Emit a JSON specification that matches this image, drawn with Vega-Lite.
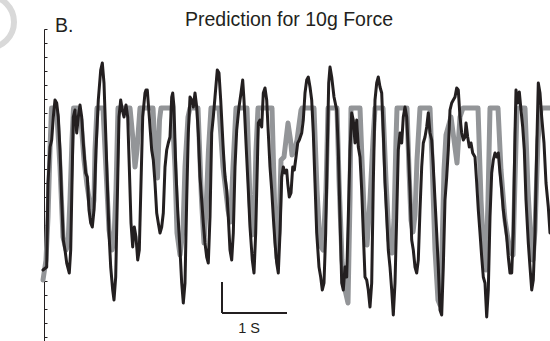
{
  "$schema": "https://vega.github.io/schema/vega-lite/v6.json",
  "width": 506,
  "height": 312,
  "autosize": {"type": "none"},
  "padding": {"left": 44, "top": 29, "right": 0, "bottom": 0},
  "background": "white",
  "config": {"view": {"stroke": null}, "font": "Liberation Sans"},
  "title": {"text": "Prediction for 10g Force", "fontSize": 19.5, "font": "Liberation Sans", "fontWeight": "normal", "color": "#231f20", "anchor": "middle", "dx": -8, "dy": 63, "offset": 2, "baseline": "alphabetic"},
  "datasets": {
    "measured": [
      {"t":-1,"f":67},{"t":2.7,"f":70},{"t":4,"f":154},{"t":6,"f":190},{"t":7.7,"f":197},{"t":9.3,"f":220},{"t":11,"f":237},{"t":12.7,"f":234},{"t":14.3,"f":220},{"t":16,"f":187},{"t":17.7,"f":137},{"t":19.3,"f":97},{"t":21,"f":87},{"t":22.7,"f":74},{"t":25.3,"f":64},{"t":26.7,"f":87},{"t":28,"f":154},{"t":29.3,"f":220},{"t":31,"f":227},{"t":32.7,"f":204},{"t":34.3,"f":220},{"t":36,"f":232},{"t":37.7,"f":220},{"t":39.3,"f":194},{"t":41.7,"f":164},{"t":43.3,"f":160},{"t":45,"f":127},{"t":46.7,"f":114},{"t":48.3,"f":110},{"t":50,"f":127},{"t":52,"f":187},{"t":54.3,"f":237},{"t":56.7,"f":267},{"t":58.3,"f":274},{"t":60,"f":254},{"t":61.7,"f":204},{"t":63.3,"f":154},{"t":65,"f":104},{"t":66.7,"f":70},{"t":68.7,"f":47},{"t":70,"f":37},{"t":71.7,"f":60},{"t":73.3,"f":137},{"t":75,"f":220},{"t":76.7,"f":237},{"t":78.3,"f":227},{"t":80,"f":220},{"t":82,"f":232},{"t":83.7,"f":220},{"t":85.3,"f":170},{"t":87,"f":114},{"t":88.7,"f":90},{"t":90.3,"f":110},{"t":92,"f":100},{"t":93.7,"f":77},{"t":95.3,"f":87},{"t":97,"f":154},{"t":98.7,"f":220},{"t":101,"f":244},{"t":102,"f":247},{"t":103.3,"f":247},{"t":105.3,"f":220},{"t":107.7,"f":187},{"t":109.3,"f":177},{"t":111,"f":154},{"t":112.7,"f":124},{"t":114.3,"f":114},{"t":116,"f":104},{"t":117.7,"f":110},{"t":119.3,"f":124},{"t":121,"f":170},{"t":122.7,"f":187},{"t":124.3,"f":194},{"t":126,"f":200},{"t":127.7,"f":240},{"t":128.7,"f":244},{"t":130,"f":230},{"t":131.7,"f":170},{"t":133.7,"f":127},{"t":136,"f":87},{"t":137.7,"f":54},{"t":139.3,"f":34},{"t":141,"f":54},{"t":142.7,"f":137},{"t":144.3,"f":204},{"t":146,"f":240},{"t":147.7,"f":237},{"t":149.3,"f":230},{"t":151,"f":244},{"t":152.7,"f":230},{"t":154.3,"f":204},{"t":156,"f":160},{"t":157.7,"f":137},{"t":159.3,"f":114},{"t":161,"f":94},{"t":162.7,"f":80},{"t":164.3,"f":74},{"t":166,"f":120},{"t":167.7,"f":204},{"t":169.3,"f":220},{"t":171,"f":240},{"t":173.3,"f":267},{"t":175,"f":264},{"t":176.7,"f":237},{"t":179.3,"f":187},{"t":181,"f":160},{"t":182.7,"f":147},{"t":184.3,"f":120},{"t":186,"f":87},{"t":187.7,"f":77},{"t":189.3,"f":104},{"t":191,"f":170},{"t":192.7,"f":207},{"t":195,"f":230},{"t":197,"f":244},{"t":198.7,"f":257},{"t":200,"f":237},{"t":202,"f":194},{"t":204.3,"f":147},{"t":206,"f":110},{"t":208.3,"f":77},{"t":210,"f":64},{"t":211.7,"f":104},{"t":213.3,"f":170},{"t":214.3,"f":214},{"t":216,"f":217},{"t":217.7,"f":210},{"t":219.3,"f":244},{"t":221,"f":249},{"t":222.7,"f":237},{"t":224.3,"f":204},{"t":226,"f":170},{"t":227.7,"f":147},{"t":229.3,"f":120},{"t":231,"f":94},{"t":232.7,"f":74},{"t":234.3,"f":64},{"t":236,"f":104},{"t":237.7,"f":160},{"t":239.3,"f":170},{"t":241,"f":164},{"t":242.7,"f":167},{"t":243.7,"f":154},{"t":245.3,"f":140},{"t":247,"f":144},{"t":248.7,"f":170},{"t":250.3,"f":167},{"t":252,"f":180},{"t":253.7,"f":194},{"t":255.3,"f":197},{"t":257.7,"f":204},{"t":259.3,"f":217},{"t":261,"f":244},{"t":262.7,"f":257},{"t":264.3,"f":260},{"t":266,"f":250},{"t":267.7,"f":237},{"t":269.3,"f":204},{"t":271,"f":154},{"t":272.7,"f":104},{"t":275,"f":70},{"t":276.7,"f":60},{"t":278.3,"f":47},{"t":280,"f":54},{"t":281.7,"f":104},{"t":283.3,"f":187},{"t":284.7,"f":254},{"t":286,"f":270},{"t":287.7,"f":260},{"t":290,"f":240},{"t":292.7,"f":227},{"t":294.3,"f":187},{"t":296,"f":120},{"t":297.7,"f":54},{"t":299.3,"f":47},{"t":301,"f":70},{"t":302.7,"f":60},{"t":304.3,"f":120},{"t":306,"f":187},{"t":307.7,"f":224},{"t":309.3,"f":217},{"t":311,"f":194},{"t":312.7,"f":217},{"t":314.3,"f":190},{"t":316,"f":180},{"t":317.7,"f":147},{"t":319.3,"f":104},{"t":321,"f":60},{"t":322.7,"f":57},{"t":324.3,"f":47},{"t":326,"f":30},{"t":327.7,"f":54},{"t":329.3,"f":154},{"t":331,"f":237},{"t":332.7,"f":254},{"t":334.3,"f":260},{"t":336,"f":250},{"t":337.7,"f":244},{"t":339.3,"f":204},{"t":341,"f":154},{"t":342.7,"f":120},{"t":344.3,"f":87},{"t":346,"f":70},{"t":347.7,"f":47},{"t":349.3,"f":22},{"t":351,"f":54},{"t":352.7,"f":120},{"t":354.3,"f":187},{"t":356,"f":204},{"t":357.7,"f":194},{"t":359.3,"f":220},{"t":361,"f":230},{"t":362.7,"f":220},{"t":364.3,"f":187},{"t":366,"f":147},{"t":367.7,"f":97},{"t":369.3,"f":87},{"t":371,"f":70},{"t":372.7,"f":64},{"t":374.3,"f":77},{"t":376,"f":127},{"t":377.7,"f":170},{"t":379.3,"f":194},{"t":381,"f":200},{"t":382.7,"f":210},{"t":384.3,"f":224},{"t":386,"f":204},{"t":387.7,"f":197},{"t":389.3,"f":170},{"t":391,"f":137},{"t":392.7,"f":104},{"t":394.3,"f":70},{"t":396,"f":27},{"t":397.7,"f":22},{"t":399.3,"f":70},{"t":401,"f":137},{"t":402.7,"f":160},{"t":404.3,"f":187},{"t":406,"f":227},{"t":407.7,"f":234},{"t":409.3,"f":237},{"t":411,"f":240},{"t":412.7,"f":249},{"t":414.3,"f":247},{"t":416,"f":220},{"t":417.7,"f":204},{"t":419.3,"f":197},{"t":421,"f":200},{"t":422,"f":214},{"t":423.7,"f":200},{"t":425.3,"f":190},{"t":427,"f":194},{"t":428.7,"f":184},{"t":431,"f":180},{"t":432.7,"f":154},{"t":434.3,"f":127},{"t":436,"f":104},{"t":437.7,"f":80},{"t":439.3,"f":60},{"t":441,"f":54},{"t":442.7,"f":20},{"t":444.3,"f":47},{"t":446,"f":120},{"t":447.7,"f":164},{"t":449.3,"f":177},{"t":451,"f":184},{"t":452.7,"f":180},{"t":454.3,"f":184},{"t":456,"f":164},{"t":457.7,"f":147},{"t":459.3,"f":127},{"t":461,"f":114},{"t":462.7,"f":100},{"t":464.3,"f":80},{"t":466,"f":64},{"t":467.7,"f":64},{"t":469.3,"f":104},{"t":471,"f":204},{"t":472,"f":247},{"t":473.7,"f":234},{"t":475.3,"f":245},{"t":477,"f":227},{"t":478.7,"f":210},{"t":480.3,"f":187},{"t":482,"f":137},{"t":484.3,"f":94},{"t":486,"f":70},{"t":487.7,"f":47},{"t":489.3,"f":57},{"t":491,"f":104},{"t":492.7,"f":187},{"t":494.3,"f":254},{"t":496,"f":244},{"t":497.7,"f":220},{"t":500,"f":194},{"t":502,"f":154},{"t":504.3,"f":130},{"t":506,"f":104}
    ],
    "predicted": [
      {"t":-1,"f":57},{"t":2,"f":77},{"t":4,"f":120},{"t":6,"f":187},{"t":7.5,"f":229},{"t":11,"f":229},{"t":13,"f":222},{"t":16,"f":170},{"t":19,"f":100},{"t":22,"f":87},{"t":24,"f":92},{"t":26,"f":137},{"t":28,"f":197},{"t":29.5,"f":229},{"t":34,"f":229},{"t":37,"f":217},{"t":40,"f":177},{"t":43,"f":152},{"t":46,"f":132},{"t":48,"f":122},{"t":50,"f":137},{"t":51,"f":187},{"t":53,"f":229},{"t":59,"f":229},{"t":62,"f":167},{"t":65,"f":107},{"t":68,"f":87},{"t":70,"f":97},{"t":72,"f":147},{"t":74,"f":229},{"t":86,"f":229},{"t":89,"f":197},{"t":91,"f":170},{"t":93,"f":187},{"t":96,"f":229},{"t":109,"f":229},{"t":111,"f":187},{"t":113.5,"f":159},{"t":115.5,"f":217},{"t":117,"f":229},{"t":128,"f":229},{"t":131,"f":170},{"t":133,"f":104},{"t":136,"f":82},{"t":139,"f":107},{"t":141,"f":170},{"t":144,"f":220},{"t":146,"f":229},{"t":154,"f":229},{"t":157.5,"f":137},{"t":160,"f":94},{"t":162,"f":127},{"t":164.5,"f":187},{"t":167,"f":229},{"t":175,"f":229},{"t":179,"f":170},{"t":184,"f":127},{"t":186.5,"f":115},{"t":189,"f":170},{"t":192,"f":229},{"t":203,"f":229},{"t":206,"f":137},{"t":208,"f":102},{"t":210,"f":112},{"t":212,"f":187},{"t":214,"f":229},{"t":228,"f":229},{"t":231,"f":117},{"t":233,"f":79},{"t":235,"f":107},{"t":237,"f":177},{"t":240,"f":180},{"t":244,"f":214},{"t":246.5,"f":197},{"t":248,"f":182},{"t":251,"f":189},{"t":253,"f":197},{"t":257,"f":227},{"t":258,"f":229},{"t":270,"f":229},{"t":273,"f":147},{"t":276,"f":92},{"t":279,"f":87},{"t":282,"f":147},{"t":284,"f":229},{"t":293,"f":229},{"t":295,"f":157},{"t":298,"f":77},{"t":301,"f":47},{"t":304,"f":34},{"t":306,"f":137},{"t":307,"f":229},{"t":316,"f":229},{"t":318,"f":177},{"t":321,"f":102},{"t":323,"f":92},{"t":326,"f":137},{"t":329,"f":197},{"t":331,"f":229},{"t":339,"f":229},{"t":342,"f":157},{"t":345,"f":97},{"t":348,"f":84},{"t":350,"f":117},{"t":352,"f":197},{"t":353,"f":229},{"t":363,"f":229},{"t":365,"f":167},{"t":367,"f":117},{"t":369,"f":105},{"t":371,"f":122},{"t":373,"f":177},{"t":376,"f":229},{"t":386,"f":229},{"t":388,"f":177},{"t":391,"f":87},{"t":394,"f":37},{"t":396,"f":32},{"t":398,"f":87},{"t":400,"f":167},{"t":402,"f":202},{"t":407,"f":220},{"t":410,"f":197},{"t":413,"f":174},{"t":416,"f":220},{"t":419,"f":229},{"t":434,"f":229},{"t":437,"f":137},{"t":440,"f":77},{"t":442,"f":67},{"t":444,"f":137},{"t":446,"f":229},{"t":454,"f":229},{"t":457,"f":167},{"t":461,"f":117},{"t":466,"f":85},{"t":469,"f":82},{"t":471,"f":157},{"t":473,"f":229},{"t":481,"f":229},{"t":484,"f":147},{"t":487,"f":92},{"t":489,"f":77},{"t":491,"f":107},{"t":494,"f":197},{"t":497,"f":229},{"t":506,"f":229}
    ],
    "scalebar": [
      {"t":178,"f":55,"t2":178,"f2":24},
      {"t":178,"f":24,"t2":243,"f2":24}
    ],
    "scalelabel": [{"t":205,"f":4,"label":"1 S"}],
    "panellabel": [{"t":11,"f":305,"label":"B."}],
    "ring": [{"t":-56,"f":315}]
  },
  "encoding": {
    "x": {"field": "t", "type": "quantitative", "scale": {"domain": [0, 506], "nice": false, "zero": false}, "axis": null},
    "y": {"field": "f", "type": "quantitative", "scale": {"domain": [-4, 308], "nice": false, "zero": false},
      "axis": {"orient": "left", "labels": false, "title": null, "grid": false, "domain": true, "domainColor": "#231f20", "domainWidth": 1, "ticks": true, "tickSize": -3, "tickColor": "#231f20", "tickWidth": 1,
        "values": [0,14,28,42,56,70,84,98,112,126,140,154,168,182,196,210,224,238,252,266,280,294,308]}}
  },
  "layer": [
    {
      "data": {"name": "ring"},
      "mark": {"type": "point", "shape": "circle", "filled": false, "stroke": "#d9d9d9", "strokeWidth": 6, "size": 2704, "opacity": 1}
    },
    {
      "data": {"name": "predicted"},
      "mark": {"type": "line", "color": "#939598", "strokeWidth": 5, "strokeJoin": "round", "strokeCap": "round"}
    },
    {
      "data": {"name": "measured"},
      "mark": {"type": "line", "color": "#231f20", "strokeWidth": 3, "strokeJoin": "round", "strokeCap": "round"}
    },
    {
      "data": {"name": "scalebar"},
      "mark": {"type": "rule", "color": "#231f20", "strokeWidth": 2},
      "encoding": {"x2": {"field": "t2"}, "y2": {"field": "f2"}}
    },
    {
      "data": {"name": "scalelabel"},
      "mark": {"type": "text", "fontSize": 14.5, "font": "Liberation Sans", "color": "#231f20", "align": "center", "baseline": "alphabetic"},
      "encoding": {"text": {"field": "label"}}
    },
    {
      "data": {"name": "panellabel"},
      "mark": {"type": "text", "fontSize": 19.5, "font": "Liberation Sans", "color": "#231f20", "align": "left", "baseline": "alphabetic"},
      "encoding": {"text": {"field": "label"}}
    }
  ]
}
